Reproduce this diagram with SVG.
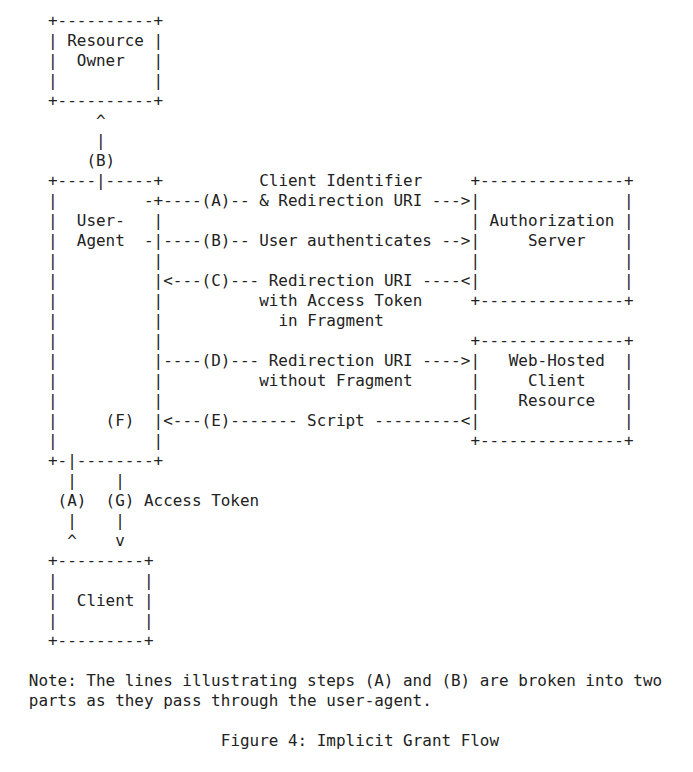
<svg xmlns="http://www.w3.org/2000/svg" width="693" height="772" viewBox="0 0 693 772" xml:space="preserve">
<style>
text { font-family: "DejaVu Sans Mono", "Liberation Mono", monospace; font-size: 15.95px; fill: #222; white-space: pre; }
</style>
<rect width="693" height="772" fill="#ffffff"/>
<g id="resource-owner">
<text x="48" y="26">+----------+</text>
<text x="48" y="46">| Resource |</text>
<text x="48" y="66">|  Owner   |</text>
<text x="48" y="86">|          |</text>
<text x="48" y="106">+----------+</text>
</g>
<g id="user-agent">
<text x="48" y="186">+----|-----+</text>
<text x="48" y="206">|</text><text x="153.6" y="206">+</text>
<text x="48" y="226">|  User-   |</text>
<text x="48" y="246">|  Agent</text><text x="153.6" y="246">|</text>
<text x="48" y="266">|          |</text>
<text x="48" y="286">|          |</text>
<text x="48" y="306">|          |</text>
<text x="48" y="326">|          |</text>
<text x="48" y="346">|          |</text>
<text x="48" y="366">|          |</text>
<text x="48" y="386">|          |</text>
<text x="48" y="406">|          |</text>
<text x="48" y="426">|</text><text x="153.6" y="426">|</text>
<text x="48" y="446">|          |</text>
<text x="48" y="466">+-|--------+</text>
</g>
<g id="authorization-server">
<text x="470.4" y="186">+---------------+</text>
<text x="470.4" y="206">|               |</text>
<text x="470.4" y="226">| Authorization |</text>
<text x="470.4" y="246">|     Server    |</text>
<text x="470.4" y="266">|               |</text>
<text x="470.4" y="286">|               |</text>
<text x="470.4" y="306">+---------------+</text>
</g>
<g id="web-hosted-client-resource">
<text x="470.4" y="346">+---------------+</text>
<text x="470.4" y="366">|   Web-Hosted  |</text>
<text x="470.4" y="386">|     Client    |</text>
<text x="470.4" y="406">|    Resource   |</text>
<text x="470.4" y="426">|               |</text>
<text x="470.4" y="446">+---------------+</text>
</g>
<g id="client">
<text x="48" y="566">+---------+</text>
<text x="48" y="586">|         |</text>
<text x="48" y="606">|  Client |</text>
<text x="48" y="626">|         |</text>
<text x="48" y="646">+---------+</text>
</g>
<g id="connectors">
<text x="96" y="126">^</text>
<text x="96" y="146">|</text>
<text x="86.4" y="166">(B)</text>
<text x="259.2" y="186">Client Identifier</text>
<text x="144" y="206">-</text>
<text x="163.2" y="206">----(A)-- &amp; Redirection URI ---&gt;</text>
<text x="144" y="246">-</text>
<text x="163.2" y="246">----(B)-- User authenticates --&gt;</text>
<text x="163.2" y="286">&lt;---(C)--- Redirection URI ----&lt;</text>
<text x="259.2" y="306">with Access Token</text>
<text x="278.4" y="326">in Fragment</text>
<text x="163.2" y="366">----(D)--- Redirection URI ----&gt;</text>
<text x="259.2" y="386">without Fragment</text>
<text x="105.6" y="426">(F)</text>
<text x="163.2" y="426">&lt;---(E)------- Script ---------&lt;</text>
<text x="67.2" y="486">|</text><text x="115.2" y="486">|</text>
<text x="57.6" y="506">(A)</text><text x="105.6" y="506">(G) Access Token</text>
<text x="67.2" y="526">|</text><text x="115.2" y="526">|</text>
<text x="67.2" y="546">^</text><text x="115.2" y="546">v</text>
</g>
<g id="notes">
<text x="28.8" y="686">Note: The lines illustrating steps (A) and (B) are broken into two</text>
<text x="28.8" y="706">parts as they pass through the user-agent.</text>
<text x="220.8" y="746">Figure 4: Implicit Grant Flow</text>
</g>
</svg>
